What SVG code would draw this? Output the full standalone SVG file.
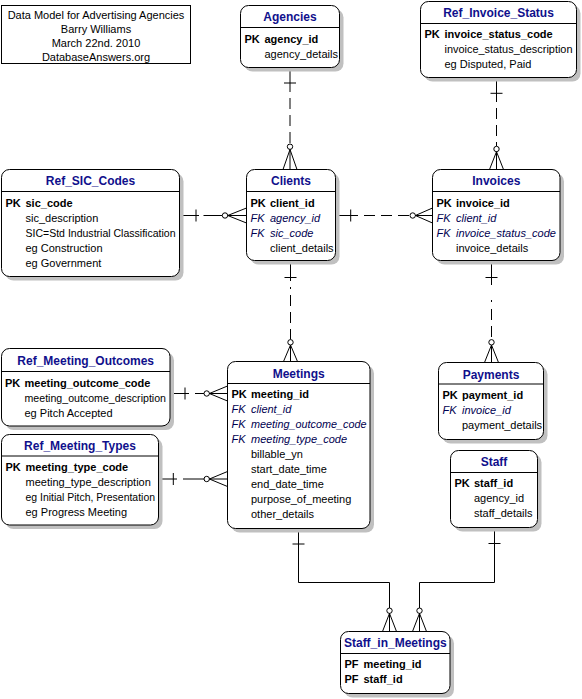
<svg xmlns="http://www.w3.org/2000/svg" width="582" height="699" viewBox="0 0 582 699">
<style>
text{font-family:"Liberation Sans",Arial,sans-serif;font-size:11px;fill:#000}
.t{font-size:12px;font-weight:bold;fill:#10108c;text-anchor:middle}
.pk{font-weight:bold}
.fk{font-style:italic;fill:#000050}
.sh{fill:#c0c0c0}
.bx{fill:#fff;stroke:#000;stroke-width:1}
.sp{stroke:#000;stroke-width:1}
.ln{stroke:#000;stroke-width:1;fill:none}
.ds{stroke:#000;stroke-width:1;fill:none;stroke-dasharray:11 6}
.ci{fill:#fff;stroke:#000;stroke-width:1}
.hd{text-anchor:middle}
</style>
<rect width="582" height="699" fill="#fff"/>

<g id="title">
<rect x="1.5" y="5.5" width="189" height="58" fill="#fff" stroke="#000"/>
<text class="hd" x="96" y="19">Data Model for Advertising Agencies</text>
<text class="hd" x="96" y="33">Barry Williams</text>
<text class="hd" x="96" y="47">March 22nd. 2010</text>
<text class="hd" x="96" y="61">DatabaseAnswers.org</text>
</g>

<g id="connectors">
<!-- Agencies -> Clients -->
<line class="ln" x1="290" y1="67.5" x2="290" y2="92"/>
<line class="ds" x1="290" y1="98" x2="290" y2="144"/>
<line class="ln" x1="284" y1="83" x2="296" y2="83"/>
<circle class="ci" cx="290" cy="146.7" r="2.7"/>
<path class="ln" d="M283,169.5 L290,149.5 L297,169.5 M290,149.5 V169.5"/>
<!-- Ref_Invoice_Status -> Invoices -->
<line class="ln" x1="496.5" y1="77.5" x2="496.5" y2="102"/>
<line class="ds" x1="496.5" y1="108" x2="496.5" y2="146.3"/>
<line class="ln" x1="490.5" y1="93.3" x2="502.5" y2="93.3"/>
<circle class="ci" cx="496.5" cy="149" r="2.7"/>
<path class="ln" d="M489.5,169.5 L496.5,151.7 L503.5,169.5 M496.5,151.7 V169.5"/>
<!-- Ref_SIC_Codes -> Clients -->
<line class="ln" x1="179.5" y1="215.5" x2="199" y2="215.5"/>
<line class="ln" x1="203.5" y1="215.5" x2="222.3" y2="215.5"/>
<line class="ln" x1="196" y1="209.5" x2="196" y2="221.5"/>
<circle class="ci" cx="225" cy="215.5" r="2.7"/>
<path class="ln" d="M246.5,208 L227.7,215.5 L246.5,223 M227.7,215.5 H246.5"/>
<!-- Clients -> Invoices -->
<line class="ln" x1="335.5" y1="215.5" x2="358" y2="215.5"/>
<line class="ds" x1="364" y1="215.5" x2="410" y2="215.5"/>
<line class="ln" x1="350.7" y1="209.5" x2="350.7" y2="221.5"/>
<circle class="ci" cx="412.7" cy="215.5" r="2.7"/>
<path class="ln" d="M432.5,208 L415.4,215.5 L432.5,223 M415.4,215.5 H432.5"/>
<!-- Clients -> Meetings -->
<line class="ln" x1="290.5" y1="260.5" x2="290.5" y2="281"/>
<line class="ln" x1="290.5" y1="287" x2="290.5" y2="289"/>
<line class="ds" x1="290.5" y1="295" x2="290.5" y2="339.6"/>
<line class="ln" x1="284.5" y1="277.5" x2="296.5" y2="277.5"/>
<circle class="ci" cx="290.5" cy="342.3" r="2.7"/>
<path class="ln" d="M283.5,361.5 L290.5,345 L297.5,361.5 M290.5,345 V361.5"/>
<!-- Invoices -> Payments -->
<line class="ln" x1="491.5" y1="260.5" x2="491.5" y2="285"/>
<line class="ln" x1="491.5" y1="300" x2="491.5" y2="302"/>
<line class="ds" x1="491.5" y1="309" x2="491.5" y2="339.6"/>
<line class="ln" x1="485.5" y1="277.5" x2="497.5" y2="277.5"/>
<circle class="ci" cx="491.5" cy="342.3" r="2.7"/>
<path class="ln" d="M484.5,362.5 L491.5,345 L498.5,362.5 M491.5,345 V362.5"/>
<!-- Ref_Meeting_Outcomes -> Meetings -->
<line class="ln" x1="170" y1="393.5" x2="189" y2="393.5"/>
<line class="ln" x1="195" y1="393.5" x2="204" y2="393.5"/>
<line class="ln" x1="185" y1="387.5" x2="185" y2="399.5"/>
<circle class="ci" cx="206.7" cy="393.5" r="2.7"/>
<path class="ln" d="M227.5,386 L209.4,393.5 L227.5,401 M209.4,393.5 H227.5"/>
<!-- Ref_Meeting_Types -> Meetings -->
<line class="ln" x1="158.5" y1="479" x2="177" y2="479"/>
<line class="ln" x1="183" y1="479" x2="204" y2="479"/>
<line class="ln" x1="173.3" y1="473" x2="173.3" y2="485"/>
<circle class="ci" cx="206.7" cy="479" r="2.7"/>
<path class="ln" d="M227.5,471.5 L209.4,479 L227.5,486.5 M209.4,479 H227.5"/>
<!-- Meetings -> Staff_in_Meetings -->
<path class="ln" d="M298.5,528.5 V582.5 H389.5 V608"/>
<line class="ln" x1="292.5" y1="544" x2="304.5" y2="544"/>
<circle class="ci" cx="389.5" cy="610.7" r="2.7"/>
<path class="ln" d="M382.5,631.5 L389.5,613.4 L396.5,631.5 M389.5,613.4 V631.5"/>
<!-- Staff -> Staff_in_Meetings -->
<path class="ln" d="M494.5,527.5 V582.5 H419.5 V608"/>
<line class="ln" x1="488.5" y1="543.5" x2="500.5" y2="543.5"/>
<circle class="ci" cx="419.5" cy="610.7" r="2.7"/>
<path class="ln" d="M412.5,631.5 L419.5,613.4 L426.5,631.5 M419.5,613.4 V631.5"/>
</g>

<g id="Agencies">
<rect class="sh" x="244.5" y="9.5" width="99" height="62" rx="8"/>
<rect class="bx" x="240.5" y="5.5" width="99" height="62" rx="8"/>
<line class="sp" x1="240.5" y1="27.5" x2="339.5" y2="27.5"/>
<text class="t" x="290" y="21">Agencies</text>
<text class="pk" x="244.5" y="42.5">PK</text><text class="pk" x="264.5" y="42.5">agency_id</text>
<text x="264.5" y="57.5">agency_details</text>
</g>

<g id="Ref_Invoice_Status">
<rect class="sh" x="424.5" y="5.5" width="156" height="76" rx="8"/>
<rect class="bx" x="420.5" y="1.5" width="156" height="76" rx="8"/>
<line class="sp" x1="420.5" y1="23.5" x2="576.5" y2="23.5"/>
<text class="t" x="498.5" y="16.5">Ref_Invoice_Status</text>
<text class="pk" x="424.5" y="37.5">PK</text><text class="pk" x="444.5" y="37.5">invoice_status_code</text>
<text x="444.5" y="52.5" textLength="128" lengthAdjust="spacingAndGlyphs">invoice_status_description</text>
<text x="444.5" y="67.5">eg Disputed, Paid</text>
</g>

<g id="Ref_SIC_Codes">
<rect class="sh" x="5.5" y="173.5" width="178" height="107" rx="8"/>
<rect class="bx" x="1.5" y="169.5" width="178" height="107" rx="8"/>
<line class="sp" x1="1.5" y1="191.5" x2="179.5" y2="191.5"/>
<text class="t" x="90.5" y="185">Ref_SIC_Codes</text>
<text class="pk" x="5.5" y="206.5">PK</text><text class="pk" x="25.5" y="206.5">sic_code</text>
<text x="25.5" y="221.5">sic_description</text>
<text x="25.5" y="236.5" textLength="150" lengthAdjust="spacingAndGlyphs">SIC=Std Industrial Classification</text>
<text x="25.5" y="251.5">eg Construction</text>
<text x="25.5" y="266.5">eg Government</text>
</g>

<g id="Clients">
<rect class="sh" x="250.5" y="173.5" width="89" height="91" rx="8"/>
<rect class="bx" x="246.5" y="169.5" width="89" height="91" rx="8"/>
<line class="sp" x1="246.5" y1="191.5" x2="335.5" y2="191.5"/>
<text class="t" x="291" y="185">Clients</text>
<text class="pk" x="250.5" y="206.5">PK</text><text class="pk" x="270" y="206.5">client_id</text>
<text class="fk" x="250.5" y="221.5">FK</text><text class="fk" x="270" y="221.5">agency_id</text>
<text class="fk" x="250.5" y="236.5">FK</text><text class="fk" x="270" y="236.5">sic_code</text>
<text x="270" y="251.5">client_details</text>
</g>

<g id="Invoices">
<rect class="sh" x="436.5" y="173.5" width="127.5" height="91" rx="8"/>
<rect class="bx" x="432.5" y="169.5" width="127.5" height="91" rx="8"/>
<line class="sp" x1="432.5" y1="191.5" x2="560" y2="191.5"/>
<text class="t" x="496.3" y="185">Invoices</text>
<text class="pk" x="436.5" y="206.5">PK</text><text class="pk" x="456" y="206.5">invoice_id</text>
<text class="fk" x="436.5" y="221.5">FK</text><text class="fk" x="456" y="221.5">client_id</text>
<text class="fk" x="436.5" y="236.5">FK</text><text class="fk" x="456" y="236.5" textLength="100" lengthAdjust="spacingAndGlyphs">invoice_status_code</text>
<text x="456" y="251.5">invoice_details</text>
</g>

<g id="Ref_Meeting_Outcomes">
<rect class="sh" x="5.5" y="352.5" width="168.5" height="77.5" rx="8"/>
<rect class="bx" x="1.5" y="348.5" width="168.5" height="77.5" rx="8"/>
<line class="sp" x1="1.5" y1="371.5" x2="170" y2="371.5"/>
<text class="t" x="85.7" y="365">Ref_Meeting_Outcomes</text>
<text class="pk" x="5" y="386.5">PK</text><text class="pk" x="24.5" y="386.5">meeting_outcome_code</text>
<text x="24.5" y="401.5" textLength="141.5" lengthAdjust="spacingAndGlyphs">meeting_outcome_description</text>
<text x="24.5" y="416.5">eg Pitch Accepted</text>
</g>

<g id="Ref_Meeting_Types">
<rect class="sh" x="5.5" y="438.5" width="157" height="90.5" rx="8"/>
<rect class="bx" x="1.5" y="434.5" width="157" height="90.5" rx="8"/>
<line class="sp" x1="1.5" y1="456" x2="158.5" y2="456"/>
<text class="t" x="80" y="449.5">Ref_Meeting_Types</text>
<text class="pk" x="5.5" y="470.5">PK</text><text class="pk" x="25.5" y="470.5">meeting_type_code</text>
<text x="25.5" y="485.5">meeting_type_description</text>
<text x="25.5" y="500.5" textLength="129.5" lengthAdjust="spacingAndGlyphs">eg Initial Pitch, Presentation</text>
<text x="25.5" y="515.5">eg Progress Meeting</text>
</g>

<g id="Meetings">
<rect class="sh" x="231.5" y="365.5" width="142.5" height="167" rx="8"/>
<rect class="bx" x="227.5" y="361.5" width="142.5" height="167" rx="8"/>
<line class="sp" x1="227.5" y1="383.5" x2="370" y2="383.5"/>
<text class="t" x="298.7" y="378">Meetings</text>
<text class="pk" x="231.5" y="397.5">PK</text><text class="pk" x="251" y="397.5">meeting_id</text>
<text class="fk" x="231.5" y="412.5">FK</text><text class="fk" x="251" y="412.5">client_id</text>
<text class="fk" x="231.5" y="427.5">FK</text><text class="fk" x="251" y="427.5" textLength="115.5" lengthAdjust="spacingAndGlyphs">meeting_outcome_code</text>
<text class="fk" x="231.5" y="442.5">FK</text><text class="fk" x="251" y="442.5">meeting_type_code</text>
<text x="251" y="457.5">billable_yn</text>
<text x="251" y="472.5">start_date_time</text>
<text x="251" y="487.5">end_date_time</text>
<text x="251" y="502.5">purpose_of_meeting</text>
<text x="251" y="517.5">other_details</text>
</g>

<g id="Payments">
<rect class="sh" x="442.5" y="366.5" width="105" height="77" rx="8"/>
<rect class="bx" x="438.5" y="362.5" width="105" height="77" rx="8"/>
<line class="sp" x1="438.5" y1="384" x2="543.5" y2="384"/>
<text class="t" x="491" y="379">Payments</text>
<text class="pk" x="442.5" y="399">PK</text><text class="pk" x="462" y="399">payment_id</text>
<text class="fk" x="442.5" y="414">FK</text><text class="fk" x="462" y="414">invoice_id</text>
<text x="462" y="429">payment_details</text>
</g>

<g id="Staff">
<rect class="sh" x="454.5" y="454.5" width="87" height="77" rx="8"/>
<rect class="bx" x="450.5" y="450.5" width="87" height="77" rx="8"/>
<line class="sp" x1="450.5" y1="472.5" x2="537.5" y2="472.5"/>
<text class="t" x="494" y="466">Staff</text>
<text class="pk" x="454.5" y="487">PK</text><text class="pk" x="474" y="487">staff_id</text>
<text x="474" y="502">agency_id</text>
<text x="474" y="517">staff_details</text>
</g>

<g id="Staff_in_Meetings">
<rect class="sh" x="344.5" y="635.5" width="109.5" height="62" rx="8"/>
<rect class="bx" x="340.5" y="631.5" width="109.5" height="62" rx="8"/>
<line class="sp" x1="340.5" y1="653.5" x2="450" y2="653.5"/>
<text class="t" x="395.3" y="647">Staff_in_Meetings</text>
<text class="pk" x="344.5" y="668">PF</text><text class="pk" x="363.5" y="668">meeting_id</text>
<text class="pk" x="344.5" y="683">PF</text><text class="pk" x="363.5" y="683">staff_id</text>
</g>
</svg>
